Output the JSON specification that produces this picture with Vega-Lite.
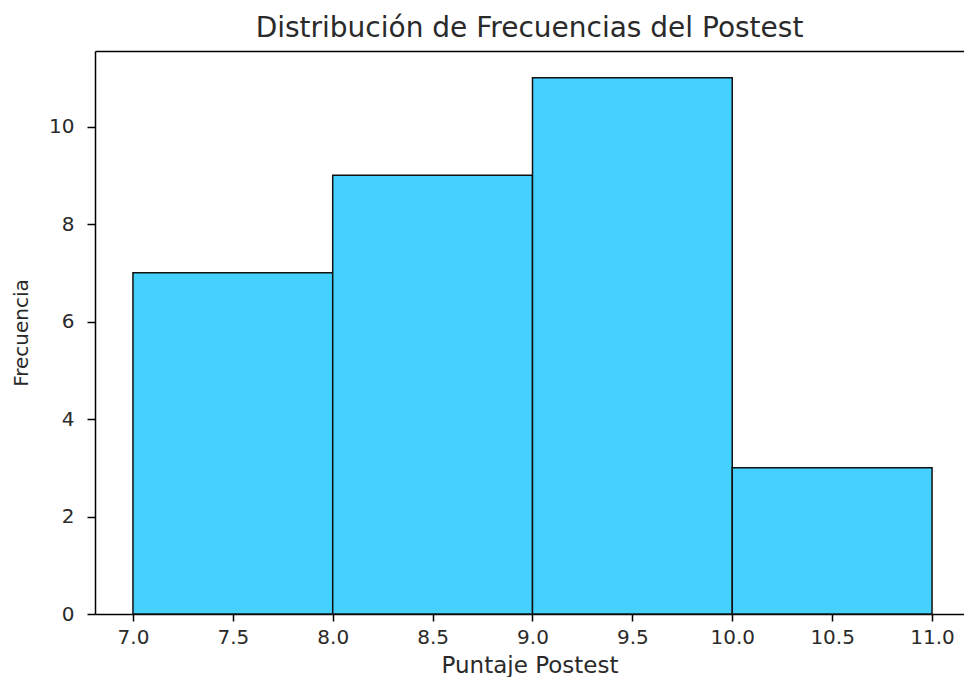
{
  "$schema": "https://vega.github.io/schema/vega-lite/v6.json",
  "width": 869,
  "height": 563,
  "autosize": {"type": "none"},
  "padding": {"left": 95, "top": 51, "right": 0, "bottom": 63},
  "background": "white",
  "title": {
    "text": "Distribución de Frecuencias del Postest",
    "font": "DejaVu Sans",
    "fontSize": 28,
    "fontWeight": "normal",
    "color": "#2a2a2a",
    "anchor": "middle",
    "offset": 8
  },
  "config": {
    "view": {"stroke": null},
    "axis": {
      "grid": false,
      "labelFont": "DejaVu Sans",
      "titleFont": "DejaVu Sans",
      "labelColor": "#2a2a2a",
      "titleColor": "#2a2a2a",
      "titleFontWeight": "normal",
      "domainColor": "#000000",
      "domainWidth": 1.5,
      "tickColor": "#000000",
      "tickWidth": 1.5
    }
  },
  "data": {
    "values": [
      {"bin_start": 7.0, "bin_end": 8.0, "count": 7},
      {"bin_start": 8.0, "bin_end": 9.0, "count": 9},
      {"bin_start": 9.0, "bin_end": 10.0, "count": 11},
      {"bin_start": 10.0, "bin_end": 11.0, "count": 3}
    ]
  },
  "layer": [
    {
      "mark": {"type": "bar", "fill": "#44D1FF", "stroke": "#111111", "strokeWidth": 1.5},
      "encoding": {
        "x": {
          "field": "bin_start",
          "type": "quantitative",
          "scale": {"domain": [6.81, 11.16], "nice": false, "zero": false},
          "axis": {
            "orient": "bottom",
            "values": [7.0, 7.5, 8.0, 8.5, 9.0, 9.5, 10.0, 10.5, 11.0],
            "format": ".1f",
            "labelFontSize": 20,
            "tickSize": 7,
            "labelPadding": 6,
            "labelFlush": false,
            "labelOverlap": false,
            "title": "Puntaje Postest",
            "titleFontSize": 23,
            "titlePadding": 7
          }
        },
        "x2": {"field": "bin_end"},
        "y": {
          "field": "count",
          "type": "quantitative",
          "scale": {"domain": [0, 11.55], "nice": false},
          "axis": {
            "values": [0, 2, 4, 6, 8, 10],
            "labelFontSize": 20,
            "tickSize": 8,
            "labelPadding": 13,
            "title": "Frecuencia",
            "titleFontSize": 20,
            "titlePadding": 17
          }
        },
        "y2": {"datum": 0}
      }
    },
    {
      "mark": {"type": "rule", "opacity": 0},
      "encoding": {
        "x": {
          "field": "bin_start",
          "type": "quantitative",
          "axis": {
            "orient": "top",
            "labels": false,
            "ticks": false,
            "title": null
          }
        }
      }
    }
  ]
}
